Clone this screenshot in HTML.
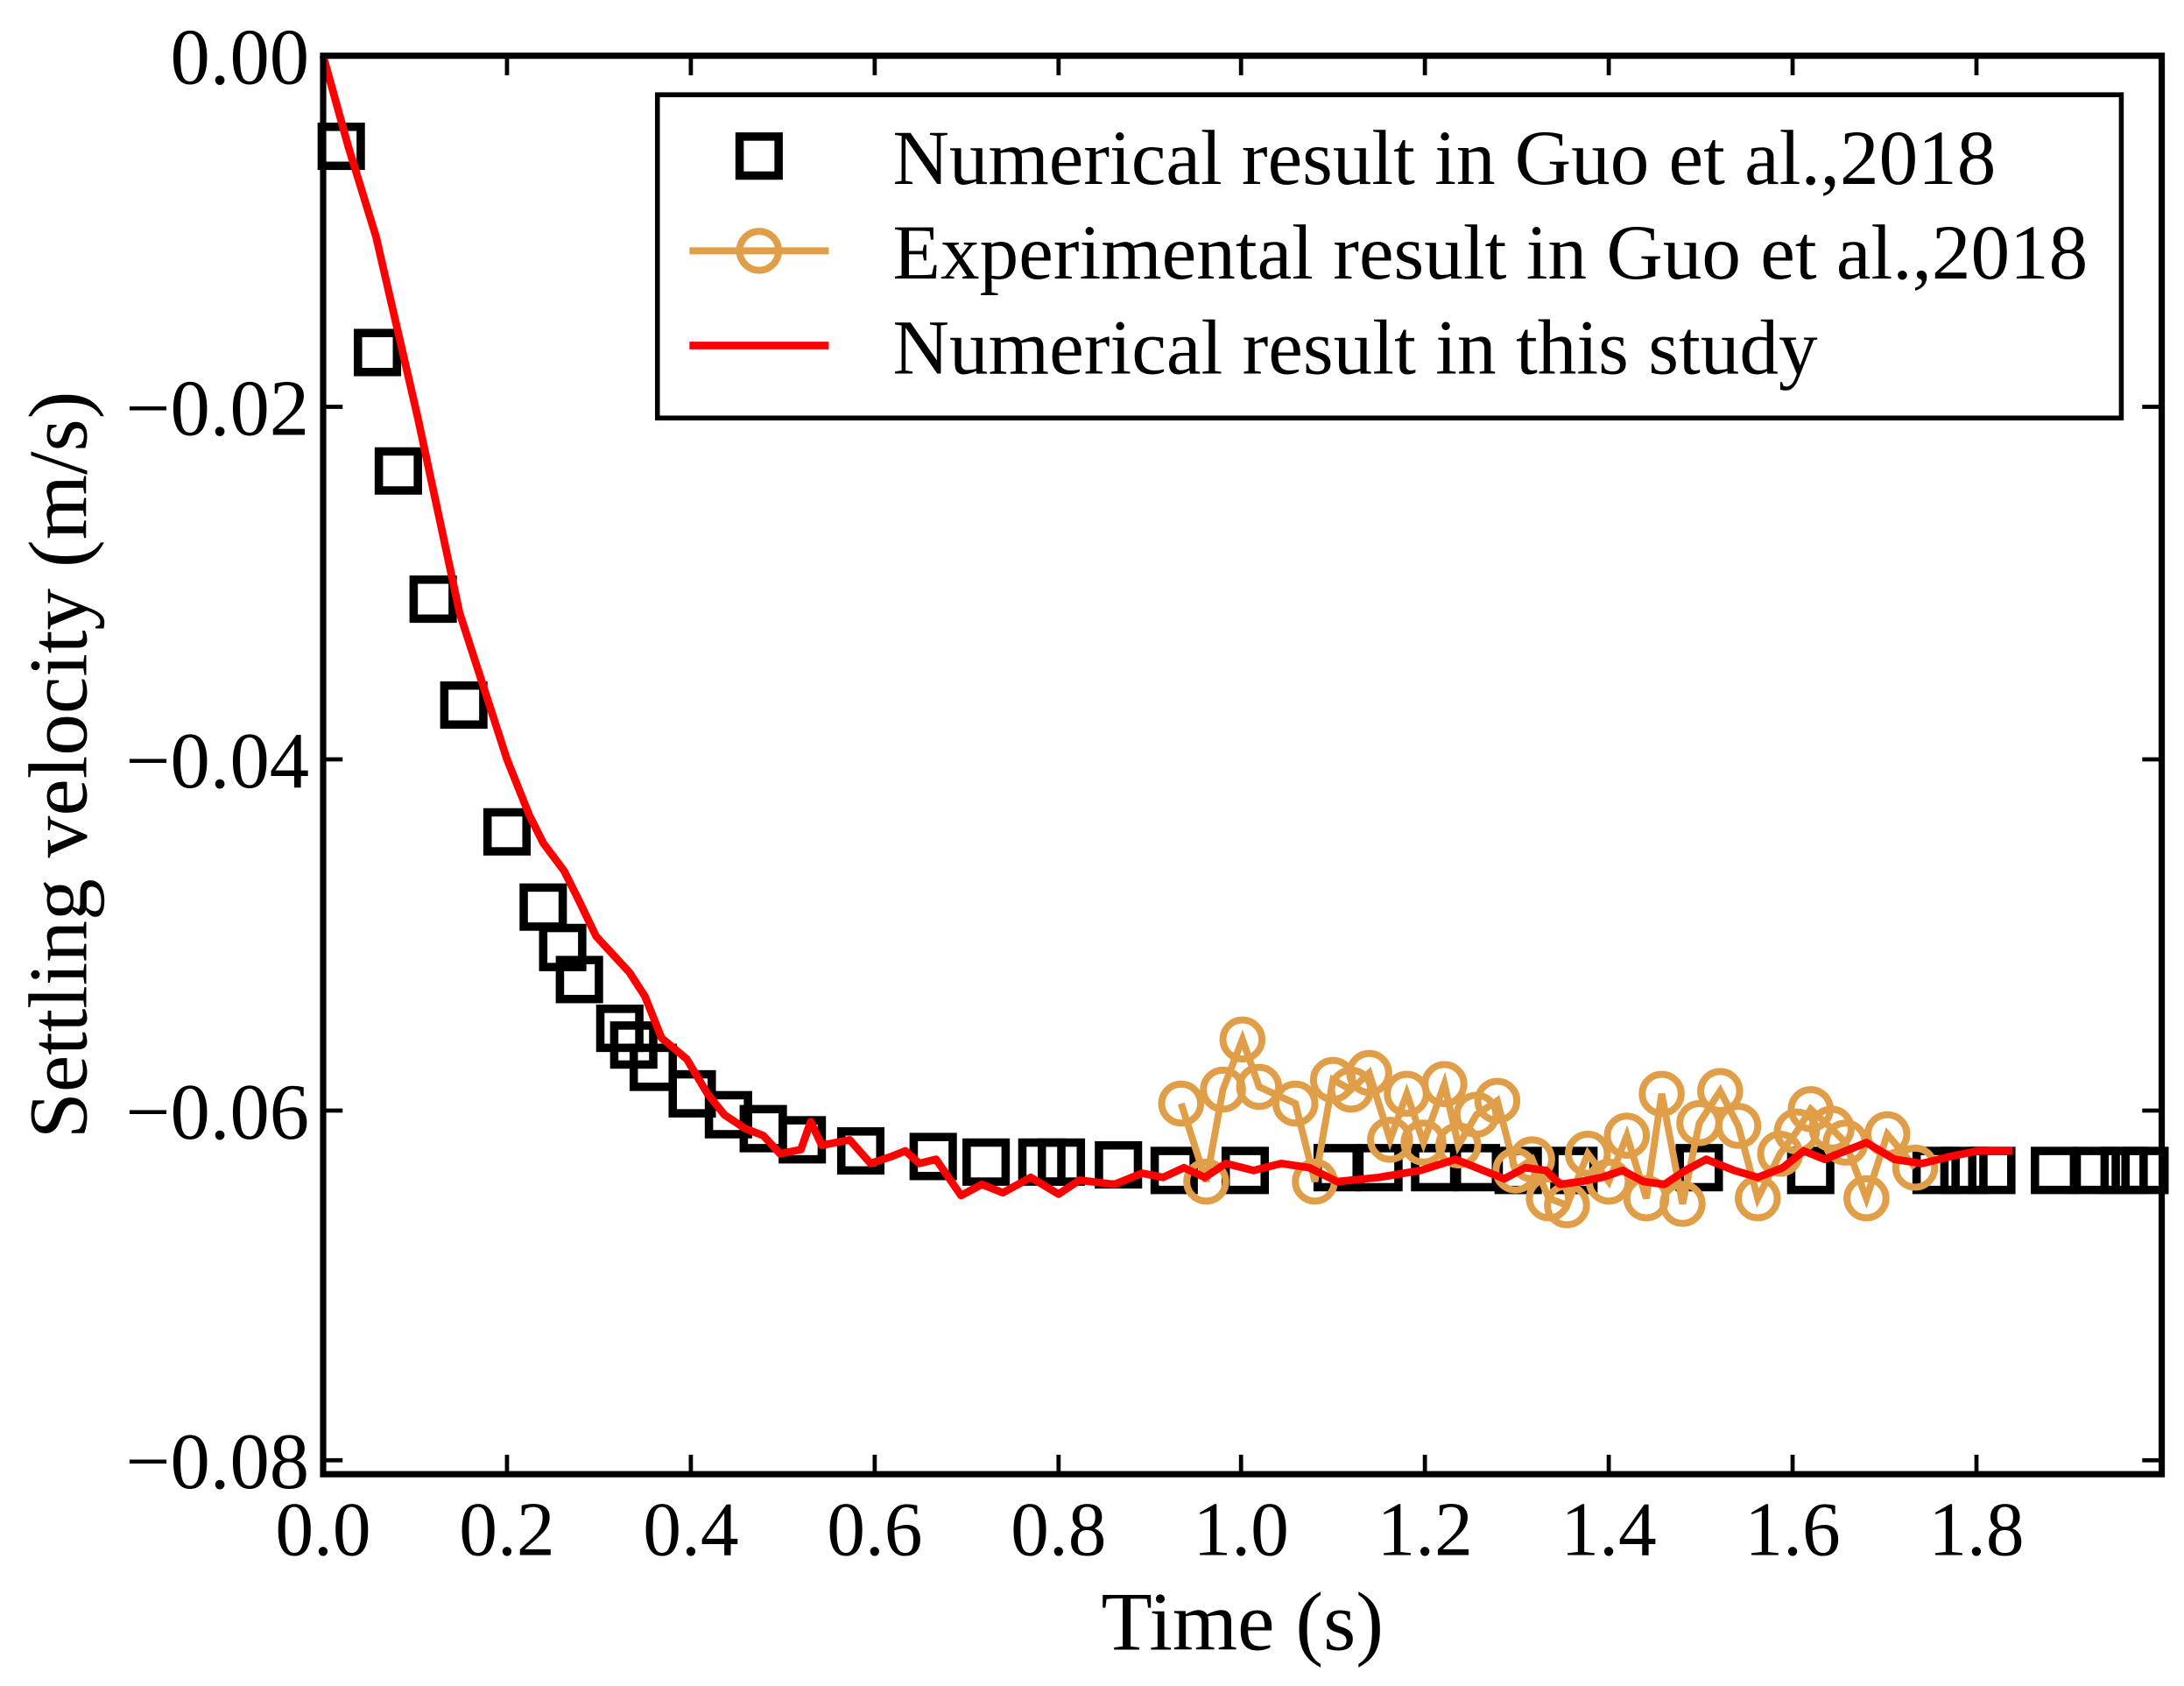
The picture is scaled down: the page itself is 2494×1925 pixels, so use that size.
<!DOCTYPE html>
<html><head><style>html,body{margin:0;padding:0;background:#fff}svg{display:block}</style></head><body>
<svg width="2494" height="1925" viewBox="0 0 1568 1210" preserveAspectRatio="none" xmlns="http://www.w3.org/2000/svg" font-family="'Liberation Serif',serif">
<rect width="1568" height="1210" fill="#fff"/>
<g fill="none" stroke="#000" stroke-width="6">
<rect x="231" y="91" width="28" height="28"/><rect x="257" y="239" width="28" height="28"/><rect x="272" y="324" width="28" height="28"/><rect x="297" y="416" width="28" height="28"/><rect x="319" y="492" width="28" height="28"/><rect x="350" y="583" width="28" height="28"/><rect x="376" y="637" width="28" height="28"/><rect x="390" y="666" width="28" height="28"/><rect x="402" y="689" width="28" height="28"/><rect x="431" y="724" width="28" height="28"/><rect x="441" y="736" width="28" height="28"/><rect x="455" y="752" width="28" height="28"/><rect x="483" y="771" width="28" height="28"/><rect x="509" y="786" width="28" height="28"/><rect x="534" y="796" width="28" height="28"/><rect x="562" y="804" width="28" height="28"/><rect x="604" y="812" width="28" height="28"/><rect x="656" y="816" width="28" height="28"/><rect x="694" y="820" width="28" height="28"/><rect x="734" y="820" width="28" height="28"/><rect x="748" y="820" width="28" height="28"/><rect x="789" y="822" width="28" height="28"/><rect x="829" y="826" width="28" height="28"/><rect x="880" y="826" width="28" height="28"/><rect x="946" y="824" width="28" height="28"/><rect x="976" y="824" width="28" height="28"/><rect x="1016" y="824" width="28" height="28"/><rect x="1046" y="824" width="28" height="28"/><rect x="1076" y="826" width="28" height="28"/><rect x="1116" y="826" width="28" height="28"/><rect x="1206" y="824" width="28" height="28"/><rect x="1286" y="826" width="28" height="28"/><rect x="1376" y="826" width="28" height="28"/><rect x="1396" y="826" width="28" height="28"/><rect x="1416" y="826" width="28" height="28"/><rect x="1461" y="826" width="28" height="28"/><rect x="1491" y="826" width="28" height="28"/><rect x="1511" y="826" width="28" height="28"/><rect x="1526" y="826" width="28" height="28"/>
</g>
<g fill="none" stroke="#e09e48" stroke-width="5">
<polyline points="848,792 866,848 878,782 892,746 904,780 930,792 944,848 957,775 970,782 983,770 998,818 1010,785 1022,820 1037,778 1047,822 1060,800 1075,790 1088,840 1100,832 1112,860 1125,865 1140,828 1155,848 1168,815 1182,860 1193,785 1208,864 1220,806 1235,783 1248,808 1262,860 1278,828 1290,812 1300,796 1315,810 1325,820 1340,860 1355,814 1375,838"/>
<circle cx="848" cy="792" r="14"/><circle cx="866" cy="848" r="14"/><circle cx="878" cy="782" r="14"/><circle cx="892" cy="746" r="14"/><circle cx="904" cy="780" r="14"/><circle cx="930" cy="792" r="14"/><circle cx="944" cy="848" r="14"/><circle cx="957" cy="775" r="14"/><circle cx="970" cy="782" r="14"/><circle cx="983" cy="770" r="14"/><circle cx="998" cy="818" r="14"/><circle cx="1010" cy="785" r="14"/><circle cx="1022" cy="820" r="14"/><circle cx="1037" cy="778" r="14"/><circle cx="1047" cy="822" r="14"/><circle cx="1060" cy="800" r="14"/><circle cx="1075" cy="790" r="14"/><circle cx="1088" cy="840" r="14"/><circle cx="1100" cy="832" r="14"/><circle cx="1112" cy="860" r="14"/><circle cx="1125" cy="865" r="14"/><circle cx="1140" cy="828" r="14"/><circle cx="1155" cy="848" r="14"/><circle cx="1168" cy="815" r="14"/><circle cx="1182" cy="860" r="14"/><circle cx="1193" cy="785" r="14"/><circle cx="1208" cy="864" r="14"/><circle cx="1220" cy="806" r="14"/><circle cx="1235" cy="783" r="14"/><circle cx="1248" cy="808" r="14"/><circle cx="1262" cy="860" r="14"/><circle cx="1278" cy="828" r="14"/><circle cx="1290" cy="812" r="14"/><circle cx="1300" cy="796" r="14"/><circle cx="1315" cy="810" r="14"/><circle cx="1325" cy="820" r="14"/><circle cx="1340" cy="860" r="14"/><circle cx="1355" cy="814" r="14"/><circle cx="1375" cy="838" r="14"/>
</g>
<polyline fill="none" stroke="#ff0000" stroke-width="5.5" stroke-linejoin="round" points="232,40 250,105 270,170 300,300 315,370 330,440 364,545 380,585 390,605 405,625 415,645 428,672 440,685 452,698 463,715 475,745 493,760 508,785 520,800 535,810 548,815 560,828 575,825 582,805 590,822 610,818 625,835 640,830 650,826 660,835 672,832 690,858 705,850 720,856 740,845 760,857 775,847 800,850 820,842 835,845 850,838 865,845 880,835 900,840 920,835 940,838 960,848 990,845 1020,840 1045,832 1060,838 1080,846 1095,838 1110,840 1120,850 1135,848 1150,845 1165,840 1180,848 1195,850 1210,840 1225,832 1245,840 1262,845 1280,838 1295,826 1310,832 1325,826 1340,820 1360,832 1380,835 1400,830 1420,826 1445,826"/>
<rect x="232" y="40" width="1320" height="1018" fill="none" stroke="#000" stroke-width="4.5"/>
<g stroke="#000" stroke-width="3">
<line x1="232" y1="292" x2="246" y2="292"/><line x1="232" y1="545" x2="246" y2="545"/><line x1="232" y1="797" x2="246" y2="797"/><line x1="232" y1="1048" x2="246" y2="1048"/>
<line x1="1552" y1="292" x2="1538" y2="292"/><line x1="1552" y1="545" x2="1538" y2="545"/><line x1="1552" y1="797" x2="1538" y2="797"/><line x1="1552" y1="1048" x2="1538" y2="1048"/>
<line x1="364" y1="1058" x2="364" y2="1044"/><line x1="496" y1="1058" x2="496" y2="1044"/><line x1="628" y1="1058" x2="628" y2="1044"/><line x1="760" y1="1058" x2="760" y2="1044"/><line x1="891" y1="1058" x2="891" y2="1044"/><line x1="1023" y1="1058" x2="1023" y2="1044"/><line x1="1155" y1="1058" x2="1155" y2="1044"/><line x1="1287" y1="1058" x2="1287" y2="1044"/><line x1="1419" y1="1058" x2="1419" y2="1044"/>
<line x1="364" y1="40" x2="364" y2="54"/><line x1="496" y1="40" x2="496" y2="54"/><line x1="628" y1="40" x2="628" y2="54"/><line x1="760" y1="40" x2="760" y2="54"/><line x1="891" y1="40" x2="891" y2="54"/><line x1="1023" y1="40" x2="1023" y2="54"/><line x1="1155" y1="40" x2="1155" y2="54"/><line x1="1287" y1="40" x2="1287" y2="54"/><line x1="1419" y1="40" x2="1419" y2="54"/>
</g>
<g font-size="57" text-anchor="end" fill="#000">
<text x="222" y="60">0.00</text><text x="222" y="312">−0.02</text><text x="222" y="565">−0.04</text><text x="222" y="817">−0.06</text><text x="222" y="1068">−0.08</text>
</g>
<g font-size="55" text-anchor="middle" fill="#000">
<text x="232" y="1116">0.0</text><text x="364" y="1116">0.2</text><text x="496" y="1116">0.4</text><text x="628" y="1116">0.6</text><text x="760" y="1116">0.8</text><text x="891" y="1116">1.0</text><text x="1023" y="1116">1.2</text><text x="1155" y="1116">1.4</text><text x="1287" y="1116">1.6</text><text x="1419" y="1116">1.8</text>
</g>
<text x="892" y="1184" font-size="60" text-anchor="middle">Time (s)</text>
<text transform="translate(62,549) rotate(-90)" font-size="60" text-anchor="middle">Settling velocity (m/s)</text>
<rect x="472" y="68" width="1051" height="232" fill="#fff" stroke="#000" stroke-width="3.5"/>
<rect x="531" y="98" width="28" height="28" fill="none" stroke="#000" stroke-width="6"/>
<line x1="495" y1="180" x2="595" y2="180" stroke="#e09e48" stroke-width="5"/>
<circle cx="545" cy="180" r="14" fill="none" stroke="#e09e48" stroke-width="5"/>
<line x1="495" y1="248" x2="595" y2="248" stroke="#ff0000" stroke-width="5.5"/>
<g font-size="56" fill="#000">
<text x="641" y="132" textLength="792" lengthAdjust="spacingAndGlyphs">Numerical result in Guo et al.,2018</text>
<text x="641" y="200" textLength="858" lengthAdjust="spacingAndGlyphs">Experimental result in Guo et al.,2018</text>
<text x="641" y="268" textLength="664" lengthAdjust="spacingAndGlyphs">Numerical result in this study</text>
</g>
</svg>
</body></html>
